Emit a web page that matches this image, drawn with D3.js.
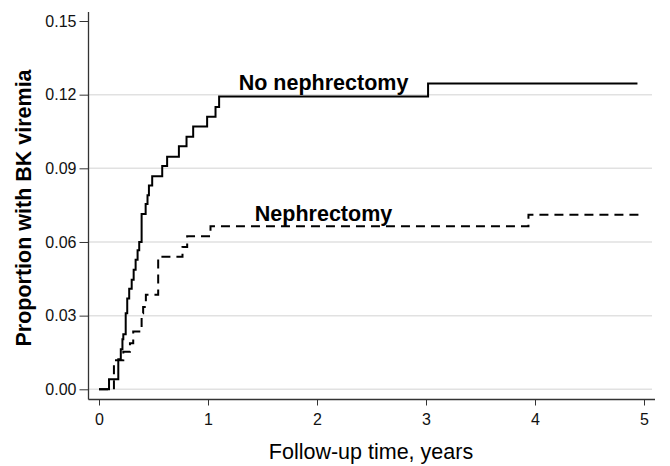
<!DOCTYPE html>
<html>
<head>
<meta charset="utf-8">
<script src="https://cdn.jsdelivr.net/npm/d3@7"></script>
<style>
  html, body { margin: 0; padding: 0; background: #fff; }
  svg { display: block; font-family: "Liberation Sans", Arial, sans-serif; }
</style>
</head>
<body>
<svg id="chart" width="670" height="466"></svg>
<script>
// Step-function data (time in years, cumulative proportion)
const noNephTime = [0, 0.092, 0.177, 0.20, 0.215, 0.223, 0.245, 0.259, 0.277, 0.30, 0.318, 0.336, 0.354, 0.369, 0.391, 0.428, 0.445, 0.458, 0.488, 0.58, 0.625, 0.733, 0.803, 0.864, 0.992, 1.069, 1.102, 3.019, 4.94];
const noNephProp = [0, 0.0041, 0.0122, 0.0163, 0.0204, 0.0224, 0.031, 0.037, 0.041, 0.0446, 0.0487, 0.0528, 0.0566, 0.060, 0.0714, 0.0755, 0.079, 0.083, 0.0868, 0.0909, 0.0947, 0.099, 0.1029, 0.107, 0.111, 0.115, 0.1192, 0.1245, 0.1245];

const nephTime = [0, 0.137, 0.223, 0.284, 0.314, 0.391, 0.405, 0.43, 0.543, 0.766, 0.809, 1.023, 3.94, 4.95];
const nephProp = [0, 0.0118, 0.0153, 0.0188, 0.0235, 0.031, 0.0335, 0.0385, 0.054, 0.058, 0.0623, 0.0664, 0.0711, 0.0711];

const xTicks = [0, 1, 2, 3, 4, 5];
const yTicks = [0, 0.03, 0.06, 0.09, 0.12, 0.15];
const gridTicks = [0, 0.03, 0.06, 0.09, 0.12];
const seriesLabels = ["No nephrectomy", "Nephrectomy"];
const labelPos = [[2.06, 0.1245], [2.06, 0.0711]];

const svg = d3.select("#chart");
const x = d3.scaleLinear().domain([0, 5]).range([99, 644]);
const y = d3.scaleLinear().domain([0, 0.15]).range([389.3, 21]);

const plotLeft = 88.5, plotRight = 655, axisY = 399.5, axisTop = 12;

// gridlines
svg.append("g").selectAll("line").data(gridTicks).join("line")
  .attr("x1", plotLeft).attr("x2", 652)
  .attr("y1", d => y(d)).attr("y2", d => y(d))
  .attr("stroke", "#e1e1e1").attr("stroke-width", 1.5);

// y axis
const yAxis = svg.append("g").attr("transform", `translate(${plotLeft},0)`)
  .call(d3.axisLeft(y).tickValues(yTicks).tickFormat(d3.format(".2f")).tickSize(9).tickPadding(3));
yAxis.select(".domain").remove();
yAxis.selectAll(".tick line").attr("stroke", "#333");
yAxis.selectAll(".tick text").attr("font-size", 16).attr("fill", "#111")
  .attr("font-family", "Liberation Sans, Arial, sans-serif");
svg.append("line").attr("x1", plotLeft).attr("x2", plotLeft).attr("y1", axisTop).attr("y2", axisY)
  .attr("stroke", "#333").attr("stroke-width", 1.3);

// x axis
const xAxis = svg.append("g").attr("transform", `translate(0,${axisY})`)
  .call(d3.axisBottom(x).tickValues(xTicks).tickFormat(d3.format("d")).tickSize(6).tickPadding(8));
xAxis.select(".domain").remove();
xAxis.selectAll(".tick line").attr("stroke", "#333");
xAxis.selectAll(".tick text").attr("font-size", 16).attr("fill", "#111")
  .attr("font-family", "Liberation Sans, Arial, sans-serif");
svg.append("line").attr("x1", plotLeft).attr("x2", plotRight).attr("y1", axisY).attr("y2", axisY)
  .attr("stroke", "#333").attr("stroke-width", 1.3);

// curves
const line = d3.line().x(d => x(d[0])).y(d => y(d[1])).curve(d3.curveStepAfter);
const noNeph = noNephTime.map((t, i) => [t, noNephProp[i]]);
const neph = nephTime.map((t, i) => [t, nephProp[i]]);

svg.append("path").datum(noNeph).attr("d", line)
  .attr("fill", "none").attr("stroke", "#000").attr("stroke-width", 2);
svg.append("path").datum(neph).attr("d", line)
  .attr("fill", "none").attr("stroke", "#000").attr("stroke-width", 2)
  .attr("stroke-dasharray", "9,6");

// series labels
svg.append("g").selectAll("text").data(seriesLabels).join("text")
  .attr("x", (d, i) => x(labelPos[i][0]))
  .attr("y", (d, i) => y(labelPos[i][1]) + 6)
  .attr("text-anchor", "middle")
  .attr("font-size", 21.5).attr("font-weight", "bold").attr("fill", "#000")
  .text(d => d);

// axis titles
svg.append("text").attr("x", 371).attr("y", 459)
  .attr("text-anchor", "middle").attr("font-size", 21.5).attr("fill", "#000")
  .text("Follow-up time, years");
svg.append("text").attr("transform", "translate(31,208) rotate(-90)")
  .attr("text-anchor", "middle").attr("font-size", 21.5).attr("font-weight", "bold").attr("fill", "#000")
  .text("Proportion with BK viremia");
</script>
</body>
</html>
